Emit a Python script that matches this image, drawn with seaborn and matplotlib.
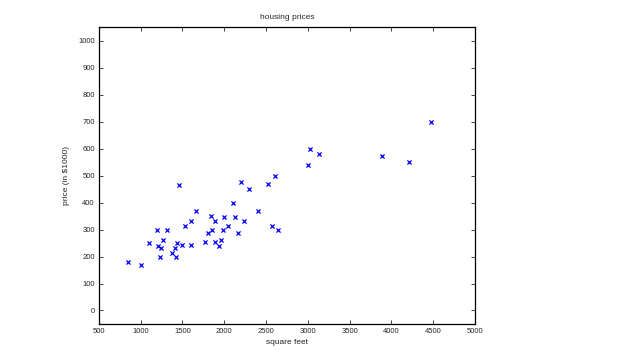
import pandas as pd
import matplotlib
matplotlib.use('Agg')
import matplotlib.pyplot as plt
import seaborn as sns

# Données : surface (pieds carrés) et prix (en milliers de $)
square_feet = [2104, 1600, 2400, 1416, 3000, 1985, 1534, 1427, 1380, 1494,
               1940, 2000, 1890, 4478, 1268, 2300, 1320, 1236, 2609, 3031,
               1767, 1888, 1604, 1962, 3890, 1100, 1458, 2526, 2200, 2637,
               1839, 1000, 2040, 3137, 1811, 1437, 1239, 2132, 4215, 2162,
               1664, 2238, 2567, 1200, 852, 1852, 1203]
price = [399.9, 329.9, 369.0, 232.0, 539.9, 299.9, 314.9, 199.0, 212.0, 242.5,
         240.0, 347.0, 330.0, 699.9, 259.9, 449.9, 299.9, 199.9, 500.0, 599.0,
         252.9, 255.0, 242.9, 259.9, 573.9, 249.9, 464.5, 469.0, 475.0, 299.9,
         349.9, 169.9, 314.9, 579.9, 285.9, 249.9, 229.9, 345.0, 549.0, 287.0,
         368.5, 329.9, 314.0, 299.0, 179.9, 299.9, 239.5]
x_ticks = list(range(500, 5001, 500))
y_ticks = list(range(0, 1001, 100))

data = pd.DataFrame({'square feet': square_feet, 'price': price})

sns.set_style('ticks')
plt.rcParams['font.family'] = ['Liberation Sans', 'DejaVu Sans']

fig = plt.figure(figsize=(6.3, 3.62), dpi=100)
ax = fig.add_axes([0.157, 0.105, 0.597, 0.820])

sns.scatterplot(data=data, x='square feet', y='price', marker='x', color='blue',
                s=9, linewidth=0.9, ax=ax, legend=False)

ax.set_xlim(500, 5000)
ax.set_ylim(-50, 1050)
ax.set_xticks(x_ticks)
ax.set_yticks(y_ticks)
ax.tick_params(direction='in', length=3, width=0.6, labelsize=5.5, pad=3,
               top=True, right=True)
for spine in ax.spines.values():
    spine.set_visible(True)
    spine.set_linewidth(0.9)
    spine.set_color('black')

ax.set_title('housing prices', fontsize=6, pad=6)
ax.set_xlabel('square feet', fontsize=6, labelpad=3)
ax.set_ylabel('price (in $1000)', fontsize=6, labelpad=6)

fig.savefig('out.png', dpi=100)
